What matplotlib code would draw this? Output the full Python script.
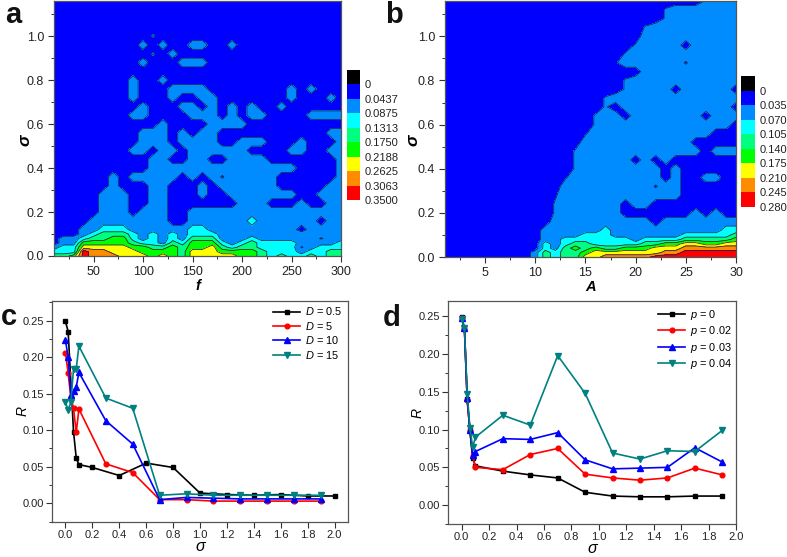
#!/usr/bin/env python3
"""Four panel figure: R contour maps over (f, sigma) and (A, sigma), and R(sigma) curves."""
import matplotlib
matplotlib.use("Agg")
import matplotlib.pyplot as plt
import numpy as np
from matplotlib.ticker import MultipleLocator

plt.rcParams["font.family"] = ["Liberation Sans", "DejaVu Sans"]
plt.rcParams["mathtext.fontset"] = "custom"
plt.rcParams["mathtext.rm"] = "Liberation Sans"
plt.rcParams["mathtext.it"] = "Liberation Sans:italic"

W, H = 787, 557

BAND_COLORS = ["#0000ff", "#008cff", "#00ffff", "#00ff80", "#00ff00", "#ffff00", "#ff8c00", "#ff0000"]

# contour levels as shown on the colour bars
LEVELS_A = [0, 0.04375, 0.0875, 0.13125, 0.1750, 0.21875, 0.2625, 0.30625, 0.3500]
LABELS_A = ["0", "0.0437", "0.0875", "0.1313", "0.1750", "0.2188", "0.2625", "0.3063", "0.3500"]
LEVELS_B = [0, 0.035, 0.070, 0.105, 0.140, 0.175, 0.210, 0.245, 0.280]
LABELS_B = ["0", "0.035", "0.070", "0.105", "0.140", "0.175", "0.210", "0.245", "0.280"]

F_VALUES = list(range(10, 301, 10))
A_VALUES = list(range(1, 31))
SIGMA_ROWS = [0, 0.02, 0.04, 0.06, 0.08, 0.10, 0.12, 0.16, 0.20, 0.24, 0.28, 0.32, 0.36, 0.40, 0.44,
              0.48, 0.52, 0.56, 0.60, 0.64, 0.68, 0.72, 0.76, 0.80, 0.84, 0.88, 0.92, 0.96, 1.00,
              1.04, 1.08, 1.12, 1.16]

# value of each grid symbol, in contour steps: digits sit mid band,
# a and z sit just above and just below the first level
BAND_UNITS = {"0": 0.5, "1": 1.5, "2": 2.5, "3": 3.5, "4": 4.5, "5": 5.5, "6": 6.5, "7": 7.5,
              "a": 1.1, "z": 0.9}

# for every grid point, lowest sigma first
BANDS_A = [
    "3347666555 4543555554 4323223233",
    "2227665554 4443555444 4322212233",
    "1225555544 3343445323 32222z1222",
    "0114444432 2132444212 3222211112",
    "0112334421 2121333111 2111111z11",
    "0001233321 2121222111 1111111111",
    "0001122211 1111221111 1111101111",
    "0000111111 1100111111 2111111011",
    "0000011101 1100111111 1111111111",
    "0000011100 1100000001 1100010011",
    "0000011100 1100010011 1111100111",
    "0000001000 1100010111 1110000011",
    "0000001011 1110101z11 1110000001",
    "0000000000 1111111111 1111100001",
    "0000000000 1100110011 1100000001",
    "0000000011 0110111111 0000110011",
    "0000000001 1101111001 1100010001",
    "0000000001 1101011000 0000000011",
    "0000000000 0100001111 0000000000",
    "0000000011 0000111010 1100001111",
    "0000000001 0001101010 1001000000",
    "0000000010 0010011000 0000100010",
    "0000000010 0011110000 0000101000",
    "0000000010 0100000000 0000000000",
    "0000000000 0000000000 0000000000",
    "0000000001 0001110000 0000000000",
    "0000000000 a010000000 0000000000",
    "0000000001 0100110010 0000000000",
    "0000000000 a000000000 0000000000",
    "0000000000 0000000000 0000000000",
    "0000000000 0000000000 0000000000",
    "0000000000 0000000000 0000000000",
    "0000000000 0000000000 0000000000",
]

BANDS_B = [
    "0000000001 3233556666 6777777777",
    "0000000001 3233455555 5566777777",
    "0000000000 2134343344 4555666666",
    "0000000000 2123322222 3344554455",
    "0000000000 1122222221 2222333334",
    "0000000000 1111222111 1111222223",
    "0000000000 1111112111 1111111122",
    "0000000000 0111111111 1011111111",
    "0000000000 0a11111100 0000010100",
    "0000000000 0a11111101 1000000000",
    "0000000000 0z11111111 1111000000",
    "0000000000 0011111111 1z11000000",
    "0000000000 00z1111111 1101001100",
    "0000000000 000a111111 1101000000",
    "0000000000 000a111110 1010000000",
    "0000000000 000a111111 1111110111",
    "0000000000 0000111111 1111100000",
    "0000000000 0000z11111 1111111000",
    "0000000000 00000a1111 1111111110",
    "0000000000 00000a1101 1111110111",
    "0000000000 000000a011 1111111110",
    "0000000000 000000a111 1111111111",
    "0000000000 00000000a1 1110111110",
    "0000000000 00000000a1 1111111111",
    "0000000000 0000000000 1111111111",
    "0000000000 0000000z11 1111z11111",
    "0000000000 00000000a1 1111111111",
    "0000000000 000000000a 1111011111",
    "0000000000 0000000000 1111111111",
    "0000000000 0000000000 a111111111",
    "0000000000 0000000000 00a1111111",
    "0000000000 0000000000 00a1111111",
    "0000000000 0000000000 000000a111",
]

SIGMA_BLACK_C = [0, 0.02, 0.06, 0.08, 0.1, 0.2, 0.4, 0.6, 0.8, 1.0, 1.2, 1.4, 1.6, 1.8, 2.0]
R_D05 = [0.249, 0.235, 0.098, 0.062, 0.053, 0.049, 0.038, 0.055, 0.049, 0.014, 0.012, 0.011, 0.012, 0.010, 0.010]

SIGMA_C = [0, 0.02, 0.04, 0.06, 0.08, 0.1, 0.3, 0.5, 0.7, 0.9, 1.1, 1.3, 1.5, 1.7, 1.9]
R_D5 = [0.206, 0.178, 0.145, 0.130, 0.097, 0.129, 0.054, 0.042, 0.005, 0.005, 0.003, 0.003, 0.003, 0.003, 0.003]
R_D10 = [0.223, 0.200, 0.148, 0.153, 0.159, 0.179, 0.113, 0.081, 0.005, 0.008, 0.007, 0.006, 0.006, 0.006, 0.006]
R_D15 = [0.138, 0.128, 0.138, 0.184, 0.184, 0.215, 0.144, 0.130, 0.011, 0.013, 0.011, 0.011, 0.011, 0.011, 0.011]

SIGMA_D = [0, 0.02, 0.04, 0.06, 0.08, 0.1, 0.3, 0.5, 0.7, 0.9, 1.1, 1.3, 1.5, 1.7, 1.9]
R_P0 = [0.249, 0.234, 0.140, 0.099, 0.062, 0.052, 0.045, 0.040, 0.036, 0.017, 0.012, 0.011, 0.011, 0.012, 0.012]
R_P02 = [0.248, 0.233, 0.139, 0.098, 0.065, 0.050, 0.047, 0.067, 0.075, 0.041, 0.036, 0.033, 0.036, 0.049, 0.040]
R_P03 = [0.248, 0.234, 0.142, 0.099, 0.066, 0.071, 0.088, 0.087, 0.096, 0.060, 0.048, 0.049, 0.050, 0.076, 0.057]
R_P04 = [0.247, 0.234, 0.147, 0.102, 0.077, 0.090, 0.119, 0.106, 0.198, 0.148, 0.069, 0.061, 0.072, 0.071, 0.099]

BLACK, RED, BLUE, TEAL = "#000000", "#ff0000", "#0000ff", "#008080"


def px_axes(fig, left, top, right, bottom):
    return fig.add_axes([left / W, 1 - bottom / H, (right - left) / W, (bottom - top) / H])


def style_axis(ax, size=8.5, pad=2.5):
    for s in ax.spines.values():
        s.set_color("#555555")
        s.set_linewidth(0.9)
    ax.tick_params(which="major", direction="out", length=4, width=0.8, color="#333333",
                   labelsize=size, labelcolor="#222222", pad=pad, top=False, right=False)
    ax.tick_params(which="minor", direction="out", length=2.2, width=0.7, color="#333333",
                   top=False, right=False)


def contour_panel(ax, xs, rows, levels, xlabel, xmajor, xminor, label_x):
    units = [[BAND_UNITS[c] for c in r.replace(" ", "")] for r in rows]
    z = np.array(units) * levels[1]
    ax.contourf(xs, SIGMA_ROWS, z, levels=levels, colors=BAND_COLORS)
    ax.contour(xs, SIGMA_ROWS, z, levels=levels[1:-1], colors="#15204a", linewidths=0.55)
    ax.set_xlim(xs[0], xs[-1])
    ax.set_ylim(0, 1.16)
    ax.xaxis.set_major_locator(MultipleLocator(xmajor))
    ax.xaxis.set_minor_locator(MultipleLocator(xminor))
    ax.yaxis.set_major_locator(MultipleLocator(0.2))
    ax.yaxis.set_minor_locator(MultipleLocator(0.1))
    ax.yaxis.set_major_formatter("{x:.1f}")
    style_axis(ax, size=9, pad=3.2)
    ax.set_xlabel(xlabel, fontsize=10.5, fontweight="bold", fontstyle="italic", labelpad=1)
    ax.set_ylabel("σ", fontsize=12.5, fontweight="bold", fontstyle="italic", va="center")
    # sits lower than the axis centre, between the 0.4 and 0.6 labels
    ax.yaxis.set_label_coords(label_x, 0.455)


def color_bar(fig, box, labels):
    cax = px_axes(fig, *box)
    colors = ["#000000"] + BAND_COLORS
    cax.barh(np.arange(len(colors)) + 0.5, 1, height=1, color=colors)
    cax.set_xlim(0, 1)
    cax.set_ylim(len(colors), 0)
    cax.set_xticks([])
    cax.yaxis.tick_right()
    cax.set_yticks(np.arange(1, len(colors) + 1))
    cax.set_yticklabels(labels)
    cax.tick_params(axis="y", length=0, labelsize=8, labelcolor="#222222", pad=3)
    for s in cax.spines.values():
        s.set_visible(False)


def line_panel(ax, series, ylim, xlim, legend_anchor, ylabel_pad):
    for xs, ys, color, marker, ms, label in series:
        ax.plot(xs, ys, color=color, linewidth=1.2, marker=marker, markersize=ms, label=label)
    ax.set_xlim(*xlim)
    ax.set_ylim(*ylim)
    ax.xaxis.set_major_locator(MultipleLocator(0.2))
    ax.yaxis.set_major_locator(MultipleLocator(0.05))
    ax.yaxis.set_minor_locator(MultipleLocator(0.025))
    ax.yaxis.set_major_formatter("{x:.2f}")
    ax.xaxis.set_major_formatter("{x:.1f}")
    style_axis(ax, size=8, pad=1.5)
    ax.set_xlabel("σ", fontsize=11.5, fontstyle="italic", labelpad=-0.5)
    ax.set_ylabel("R", fontsize=10, fontstyle="italic", labelpad=ylabel_pad)
    ax.legend(frameon=False, loc="upper right", bbox_to_anchor=legend_anchor, fontsize=7.9,
              handlelength=2.5, labelspacing=0.22, handletextpad=0.4, borderaxespad=0, borderpad=0)


fig = plt.figure(figsize=(W / 100, H / 100), dpi=100)

ax_a = px_axes(fig, 54, 1, 341, 256)
contour_panel(ax_a, F_VALUES, BANDS_A, LEVELS_A, "f", 50, 25, -0.10)
color_bar(fig, (347, 70, 360, 200), LABELS_A)

ax_b = px_axes(fig, 445, 1, 736, 257)
contour_panel(ax_b, A_VALUES, BANDS_B, LEVELS_B, "A", 5, 2.5, -0.11)
color_bar(fig, (741, 76, 755, 207), LABELS_B)

ax_c = px_axes(fig, 52, 301, 348, 522)
line_panel(ax_c, [
    (SIGMA_BLACK_C, R_D05, BLACK, "s", 3.2, "$\\mathit{D}$ = 0.5"),
    (SIGMA_C, R_D5, RED, "o", 3.4, "$\\mathit{D}$ = 5"),
    (SIGMA_C, R_D10, BLUE, "^", 3.8, "$\\mathit{D}$ = 10"),
    (SIGMA_C, R_D15, TEAL, "v", 3.8, "$\\mathit{D}$ = 15"),
], (-0.0256, 0.2768), (-0.10, 2.10), (0.98, 0.98), -5)

ax_d = px_axes(fig, 448, 301, 736, 524)
line_panel(ax_d, [
    (SIGMA_D, R_P0, BLACK, "s", 3.2, "$\\mathit{p}$ = 0"),
    (SIGMA_D, R_P02, RED, "o", 3.4, "$\\mathit{p}$ = 0.02"),
    (SIGMA_D, R_P03, BLUE, "^", 3.8, "$\\mathit{p}$ = 0.03"),
    (SIGMA_D, R_P04, TEAL, "v", 3.8, "$\\mathit{p}$ = 0.04"),
], (-0.025, 0.2703), (-0.10, 2.0), (0.985, 0.97), -4)

for letter, x, y in [("a", 5, 23), ("b", 385, 23), ("c", 1, 325), ("d", 383, 326)]:
    fig.text(x / W, 1 - y / H, letter, fontsize=21, fontweight="bold", color="#111111")

fig.savefig("out.png", dpi=100)
